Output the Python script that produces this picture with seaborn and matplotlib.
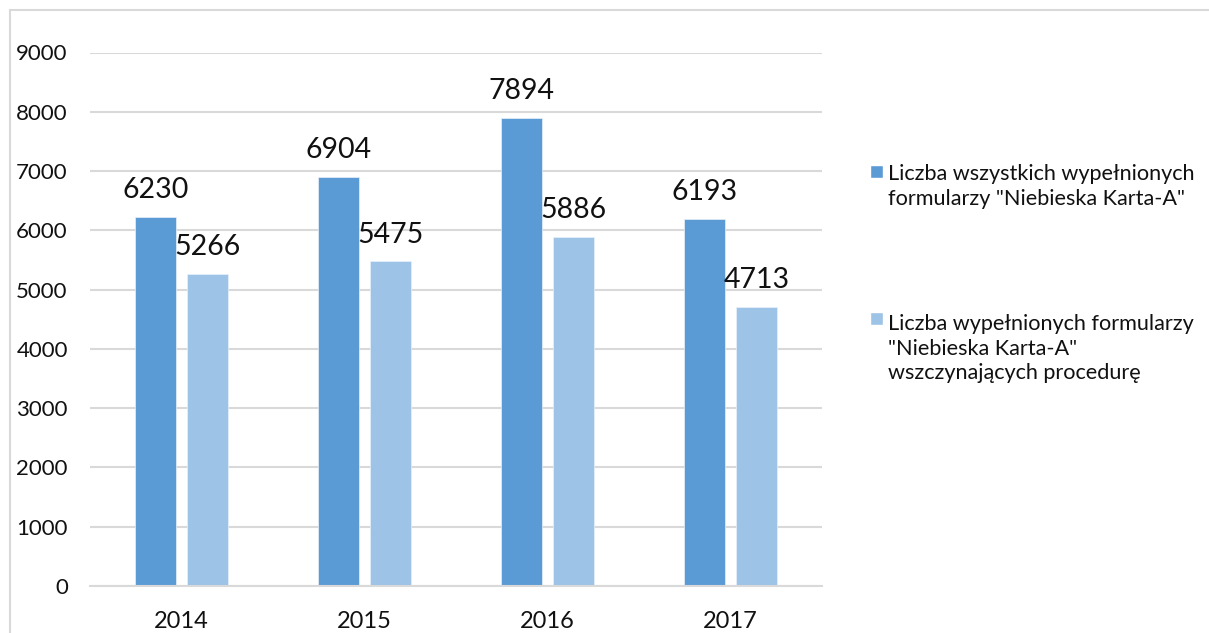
import numpy as np
import pandas as pd
import matplotlib.pyplot as plt
import seaborn as sns
from matplotlib.patches import Rectangle, Patch
from matplotlib.legend_handler import HandlerPatch

years = ['2014', '2015', '2016', '2017']
wszystkie = [6230, 6904, 7894, 6193]
wszczynajace = [5266, 5475, 5886, 4713]
series_names = ['Liczba wszystkich wypełnionych\nformularzy "Niebieska Karta-A"',
                'Liczba wypełnionych formularzy\n"Niebieska Karta-A"\nwszczynających procedurę']
colors = ['#5b9bd5', '#9dc3e6']

df = pd.DataFrame({
    'rok': years * 2,
    'liczba': wszystkie + wszczynajace,
    'seria': [series_names[0]] * 4 + [series_names[1]] * 4,
})

sns.set_style('white')
plt.rcParams['font.family'] = ['Lato', 'DejaVu Sans']

fig = plt.figure(figsize=(12.09, 6.33), dpi=100)
ax = fig.add_axes([90 / 1209, 1 - 586 / 633, 732 / 1209, (586 - 52.5) / 633])

sns.barplot(data=df, x='rok', y='liczba', hue='seria', palette=colors,
            saturation=1, width=0.568, gap=0.21, ax=ax,
            edgecolor='#e8f0f8', linewidth=0.5, legend=False)

for cont in ax.containers:
    ax.bar_label(cont, fontsize=20.5, padding=10, color='#111111')

ax.set_ylim(0, 9000)
ax.set_yticks(range(0, 9001, 1000))
ax.set_xlim(-0.5, 3.5)
ax.yaxis.grid(True, color='#d9d9d9', linewidth=1.5)
ax.set_axisbelow(True)
for s in ['top', 'right', 'left']:
    ax.spines[s].set_visible(False)
ax.spines['bottom'].set_color('#d9d9d9')
ax.spines['bottom'].set_linewidth(1.5)
ax.tick_params(axis='y', length=0, labelsize=16, colors='#111111', pad=16)
ax.tick_params(axis='x', length=0, labelsize=17, colors='#111111', pad=18)
ax.set_xlabel('')
ax.set_ylabel('')

# legend squares sit next to the first line of each label
leg_fs = 15.6
line_pitch = 1.1 * 1.3 * leg_fs


def top_square(n_lines):
    def make(legend, orig_handle, xdescent, ydescent, width, height, fontsize):
        shift = (n_lines - 1) / 2 * line_pitch
        return Rectangle((-xdescent, -ydescent + shift), width, width)
    return make


handles = [Patch(facecolor=c) for c in colors]
handler_map = {h: HandlerPatch(patch_func=top_square(name.count('\n') + 1))
               for h, name in zip(handles, series_names)}
leg = fig.legend(handles, series_names, loc='upper left',
                 bbox_to_anchor=(870 / 1209, 1 - 164 / 633),
                 frameon=False, fontsize=leg_fs, labelspacing=4.85,
                 handlelength=0.6, handleheight=0.6, handletextpad=0.25,
                 borderpad=0, borderaxespad=0, handler_map=handler_map)
for t in leg.get_texts():
    t.set_linespacing(1.3)
    t.set_color('#111111')

fig.add_artist(Rectangle((10 / 1209, -0.1), 1.2, 1 - 10 / 633 + 0.1,
                         transform=fig.transFigure, fill=False,
                         edgecolor='#d9d9d9', linewidth=1.5))

plt.savefig('out.png', dpi=100)
